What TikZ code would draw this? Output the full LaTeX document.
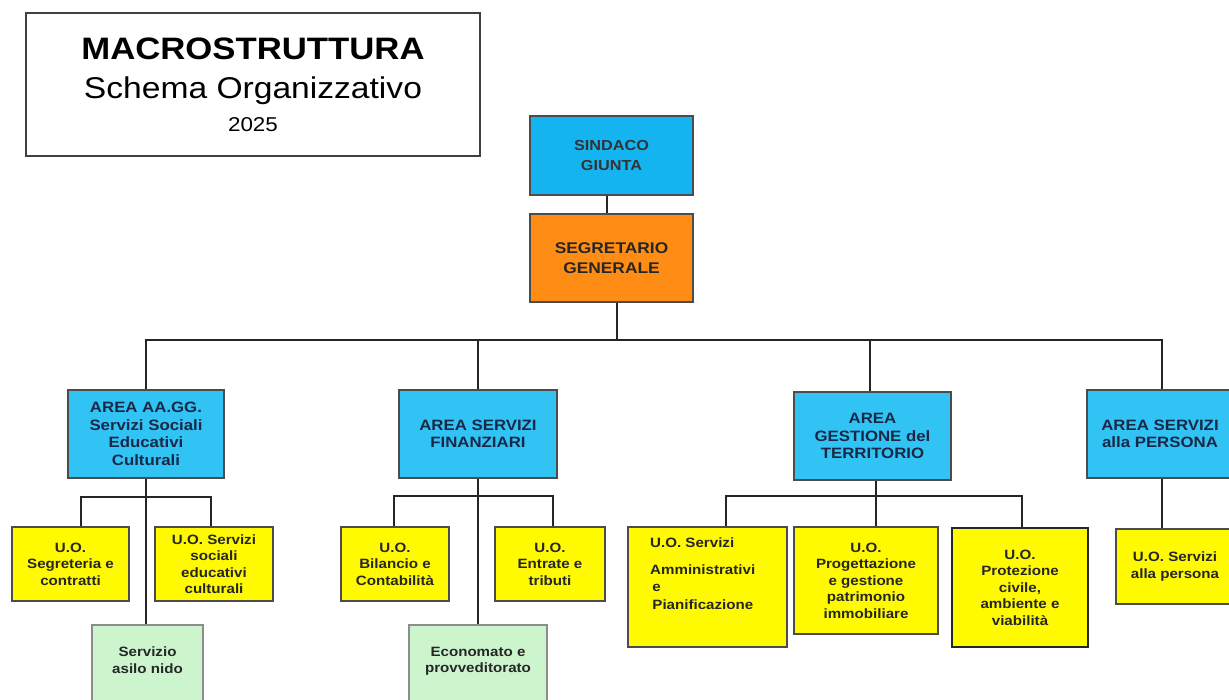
\documentclass[tikz,border=0pt]{standalone}
\usepackage{fontspec}
\setmainfont[FakeStretch=1.12]{Liberation Sans}
\begin{document}
\begin{tikzpicture}[x=1pt,y=-1pt,
  box/.style={draw=black!70, line width=1.2pt, align=center, inner sep=0pt, font=\bfseries\fontsize{13.5}{16.5}\selectfont},
  top/.style={box, fill=topblue, text=black!80, font=\bfseries\fontsize{14.5}{20}\selectfont},
  area/.style={box, fill=areablue, text=navy, font=\bfseries\fontsize{15}{17.5}\selectfont},
  uo/.style={box, fill=uoyellow, text=black!85},
  serv/.style={box, fill=servgreen, draw=black!45, text=black!85},
  conn/.style={draw=black!85, line width=2pt}
]
\definecolor{topblue}{RGB}{20,180,240}
\definecolor{areablue}{RGB}{50,195,245}
\definecolor{navy}{RGB}{25,40,70}
\definecolor{orng}{RGB}{255,140,20}
\definecolor{uoyellow}{RGB}{255,250,0}
\definecolor{servgreen}{RGB}{205,245,205}
\useasboundingbox (0,0) rectangle (1229,700);
\fill[white] (0,0) rectangle (1229,700);

% title
\node[draw=black!75, line width=1.3pt, minimum width=454, minimum height=143] (title) at (253,84.5) {};
\node[font=\bfseries\fontsize{31}{34}\selectfont] (t1) at (253,49) {MACROSTRUTTURA};
\node[font=\fontsize{30}{32}\selectfont] (t2) at (253,91) {Schema Organizzativo};
\node[font=\fontsize{20}{22}\selectfont] (t3) at (253,125) {2025};

% top
\node[top, minimum width=163, minimum height=79] (sind) at (611.5,155.5) {SINDACO\\GIUNTA};
\node[top, fill=orng, text=black!85, font=\bfseries\fontsize{15.5}{20}\selectfont, minimum width=163, minimum height=88] (segr) at (611.5,258) {SEGRETARIO\\GENERALE};

% areas
\node[area, minimum width=156, minimum height=88] (aagg) at (146,434) {AREA AA.GG.\\Servizi Sociali\\Educativi\\Culturali};
\node[area, minimum width=158, minimum height=88] (fin) at (478,434) {AREA SERVIZI\\FINANZIARI};
\node[area, minimum width=157, minimum height=88] (terr) at (872.5,436) {AREA\\GESTIONE del\\TERRITORIO};
\node[area, minimum width=146, minimum height=88] (pers) at (1160,434) {AREA SERVIZI\\alla PERSONA};

% AA.GG. units
\node[uo, minimum width=117, minimum height=74] (seg) at (70.5,564) {U.O.\\Segreteria e\\contratti};
\node[uo, minimum width=118, minimum height=74] (soc) at (214,564) {U.O. Servizi\\sociali\\educativi\\culturali};
\node[serv, minimum width=111, minimum height=80, text depth=10pt] (asilo) at (147.5,665) {Servizio\\asilo nido};

% finanziari units
\node[uo, minimum width=108, minimum height=74] (bil) at (395,564) {U.O.\\Bilancio e\\Contabilità};
\node[uo, minimum width=110, minimum height=74] (ent) at (550,564) {U.O.\\Entrate e\\tributi};
\node[serv, minimum width=138, minimum height=80, text depth=10pt] (eco) at (478,665) {Economato e\\provveditorato};

% territorio units
\node[uo, minimum width=159, minimum height=120] (amm) at (707.5,587) {};
\node[anchor=north west, align=left, inner sep=0pt, text=black!85, font=\bfseries\fontsize{13.5}{17.5}\selectfont] (ammt) at (650,538) {U.O. Servizi\\[9pt]Amministrativi\\\,e\\\,Pianificazione};
\node[uo, minimum width=144, minimum height=107] (prog) at (866,580.5) {U.O.\\Progettazione\\e gestione\\patrimonio\\immobiliare};
\node[uo, draw=black!85, minimum width=136, minimum height=119] (prot) at (1020,587.5) {U.O.\\Protezione\\civile,\\ambiente e\\viabilità};

% persona unit
\node[uo, minimum width=118, minimum height=75] (uopers) at (1175,566.5) {U.O. Servizi\\alla persona};

% connectors
\coordinate (hub) at (617,340);
\draw[conn] ([xshift=-4.5]sind.south) -- ([xshift=-4.5]segr.north);
\draw[conn] (segr.south -| hub) -- (hub);
\draw[conn] (aagg.north) -- (aagg.north |- hub) -- ([xshift=2]pers.north |- hub) -- ([xshift=2]pers.north);
\draw[conn] (fin.north) -- (fin.north |- hub);
\draw[conn] ([xshift=-2.5]terr.north) -- ([xshift=-2.5]terr.north |- hub);

\draw[conn] (aagg.south) -- (aagg.south |- asilo.north);
\draw[conn] ([xshift=10.5]seg.north) -- ++(0,-29) -| ([xshift=-3]soc.north);
\draw[conn] (fin.south) -- (fin.south |- eco.north);
\draw[conn] ([xshift=-1]bil.north) -- ++(0,-30) -| ([xshift=3]ent.north);
\draw[conn] ([xshift=3.5]terr.south) -- ([xshift=3.5]terr.south |- prog.north);
\draw[conn] ([xshift=18.5]amm.north) -- ++(0,-30) -| ([xshift=2]prot.north);
\draw[conn] ([xshift=2]pers.south) -- ([xshift=2]pers.south |- uopers.north);
\end{tikzpicture}
\end{document}
